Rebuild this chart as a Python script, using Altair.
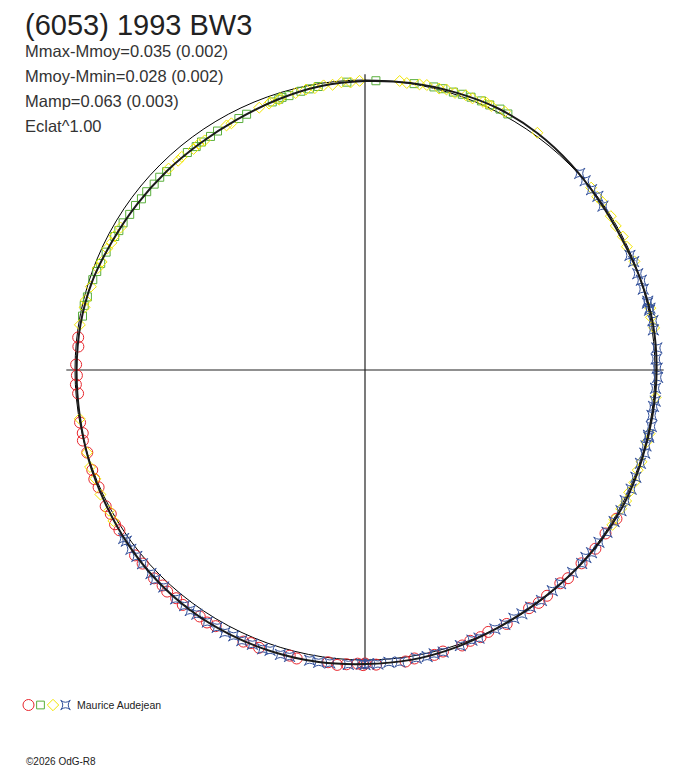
import altair as alt
import numpy as np
import pandas as pd

# ---------------- data (phase 0..1, relative magnitude, + = fainter) ----------------
fit_phase = [0.000, 0.025, 0.050, 0.075, 0.100, 0.125, 0.150, 0.175, 0.200, 0.225,
             0.250, 0.275, 0.300, 0.325, 0.350, 0.375, 0.400, 0.425, 0.450, 0.475,
             0.500, 0.525, 0.550, 0.575, 0.600, 0.625, 0.650, 0.675, 0.700, 0.725,
             0.750, 0.775, 0.800, 0.825, 0.850, 0.875, 0.900, 0.925, 0.950, 0.975]
fit_mag = [0.004, -0.002, -0.007, -0.013, -0.011, -0.004, 0.004, 0.006, 0.000, -0.006,
           -0.006, -0.004, -0.004, -0.006, -0.004, 0.000, 0.002, 0.000, -0.007, -0.013,
           -0.015, -0.021, -0.024, -0.026, -0.026, -0.022, -0.015, -0.007, -0.002, 0.004,
           0.006, 0.007, 0.012, 0.024, 0.031, 0.035, 0.037, 0.033, 0.022, 0.010]

red_phase = [0.335, 0.345, 0.355, 0.366, 0.377, 0.382, 0.392, 0.398, 0.404, 0.419,
             0.430, 0.435, 0.441, 0.446, 0.457, 0.462, 0.473, 0.478, 0.494, 0.500,
             0.501, 0.504, 0.510, 0.515, 0.520, 0.537, 0.541, 0.558, 0.563, 0.567,
             0.584, 0.589, 0.594, 0.605, 0.610, 0.616, 0.620, 0.626, 0.636, 0.642,
             0.658, 0.662, 0.668, 0.673, 0.684, 0.689, 0.694, 0.704, 0.711, 0.715,
             0.721, 0.737, 0.742, 0.747, 0.753, 0.763, 0.768]
red_mag = [-0.008, -0.003, -0.006, -0.001, -0.003, 0.003, 0.000, -0.002, 0.003, -0.003,
           0.002, -0.004, -0.002, -0.008, -0.008, -0.012, -0.010, -0.016, -0.018, -0.013,
           -0.019, -0.014, -0.018, -0.023, -0.017, -0.024, -0.020, -0.027, -0.022, -0.028,
           -0.024, -0.029, -0.025, -0.027, -0.023, -0.026, -0.021, -0.024, -0.018, -0.020,
           -0.012, -0.014, -0.008, -0.011, -0.004, -0.007, -0.002, 0.001, -0.003, 0.003,
           0.001, 0.008, 0.002, 0.007, 0.004, 0.009, 0.005]

green_phase = [0.780, 0.786, 0.791, 0.801, 0.806, 0.811, 0.818, 0.828, 0.832, 0.837,
               0.843, 0.849, 0.854, 0.859, 0.865, 0.870, 0.875, 0.891, 0.897, 0.901,
               0.907, 0.912, 0.926, 0.931, 0.947, 0.951, 0.953, 0.957, 0.964, 0.969,
               0.974, 0.990, 0.006, 0.027, 0.038, 0.043, 0.049, 0.054, 0.059, 0.065,
               0.070, 0.076, 0.081]
green_mag = [0.009, 0.007, 0.011, 0.012, 0.016, 0.019, 0.021, 0.024, 0.027, 0.026,
             0.030, 0.029, 0.032, 0.031, 0.034, 0.032, 0.036, 0.035, 0.038, 0.036,
             0.038, 0.035, 0.033, 0.031, 0.024, 0.022, 0.019, 0.020, 0.015, 0.013,
             0.010, 0.006, 0.002, -0.002, -0.005, -0.007, -0.006, -0.009, -0.010, -0.012,
             -0.011, -0.014, -0.012]

yellow_phase = [0.775, 0.785, 0.789, 0.797, 0.808, 0.812, 0.820, 0.824, 0.828, 0.834,
                0.877, 0.884, 0.887, 0.895, 0.899, 0.903, 0.918, 0.921, 0.939, 0.945,
                0.946, 0.951, 0.952, 0.961, 0.967, 0.972, 0.977, 0.982, 0.987, 0.992,
                0.997, 0.019, 0.023, 0.030, 0.034, 0.041, 0.045, 0.050, 0.056, 0.060,
                0.066, 0.068, 0.071, 0.079, 0.100, 0.142, 0.148, 0.152, 0.161, 0.167,
                0.174, 0.180, 0.189, 0.216, 0.221, 0.227, 0.265, 0.285, 0.290, 0.301,
                0.306, 0.313, 0.319, 0.324, 0.329, 0.336, 0.339, 0.664, 0.670, 0.680,
                0.689, 0.696, 0.704, 0.723]
yellow_mag = [0.005, 0.010, 0.008, 0.013, 0.015, 0.020, 0.019, 0.024, 0.022, 0.027,
              0.033, 0.036, 0.034, 0.039, 0.036, 0.038, 0.034, 0.036, 0.027, 0.026,
              0.022, 0.024, 0.020, 0.017, 0.013, 0.014, 0.009, 0.011, 0.005, 0.008,
              0.003, -0.004, 0.000, -0.003, -0.006, -0.004, -0.008, -0.005, -0.010, -0.008,
              -0.011, -0.013, -0.010, -0.014, -0.012, -0.002, 0.001, -0.003, 0.000, 0.003,
              -0.001, 0.002, -0.002, -0.007, -0.003, -0.008, -0.007, -0.006, -0.002, -0.005,
              -0.002, -0.007, -0.004, -0.008, -0.005, -0.003, -0.007, -0.013, -0.008, -0.009,
              -0.003, -0.006, 0.000, 0.002]

blue_phase = [0.132, 0.137, 0.143, 0.148, 0.154, 0.185, 0.189, 0.196, 0.200, 0.205,
              0.212, 0.213, 0.216, 0.217, 0.223, 0.228, 0.238, 0.244, 0.249, 0.254,
              0.260, 0.267, 0.270, 0.275, 0.281, 0.286, 0.287, 0.292, 0.296, 0.302,
              0.310, 0.317, 0.324, 0.330, 0.337, 0.344, 0.351, 0.358, 0.362, 0.366,
              0.373, 0.382, 0.388, 0.396, 0.403, 0.409, 0.414, 0.420, 0.426, 0.436,
              0.440, 0.447, 0.457, 0.462, 0.466, 0.472, 0.481, 0.487, 0.493, 0.498,
              0.500, 0.502, 0.509, 0.519, 0.525, 0.530, 0.541, 0.546, 0.552, 0.556,
              0.562, 0.568, 0.573, 0.578, 0.583, 0.589, 0.596, 0.600, 0.604, 0.610,
              0.619, 0.625, 0.629, 0.636, 0.641, 0.646, 0.651, 0.653]
blue_mag = [-0.004, -0.001, 0.002, -0.002, 0.004, 0.005, 0.001, 0.003, -0.002, 0.001,
            -0.004, -0.001, -0.006, -0.003, -0.008, -0.004, -0.010, -0.005, -0.008, -0.010,
            -0.004, -0.007, -0.003, -0.002, -0.007, -0.003, -0.006, -0.004, -0.007, -0.003,
            -0.005, -0.006, -0.004, -0.008, -0.006, -0.005, -0.002, -0.004, 0.001, -0.002,
            0.000, 0.001, 0.002, -0.001, 0.003, 0.000, 0.002, -0.001, 0.001, -0.005,
            -0.002, -0.006, -0.010, -0.008, -0.012, -0.010, -0.015, -0.012, -0.016, -0.014,
            -0.017, -0.015, -0.018, -0.019, -0.022, -0.020, -0.023, -0.025, -0.022, -0.026,
            -0.024, -0.027, -0.024, -0.028, -0.025, -0.027, -0.024, -0.027, -0.025, -0.026,
            -0.022, -0.024, -0.020, -0.019, -0.017, -0.018, -0.014, -0.016]

title_text = "(6053) 1993 BW3"
info_lines = ["Mmax-Mmoy=0.035 (0.002)", "Mmoy-Mmin=0.028 (0.002)",
              "Mamp=0.063 (0.003)", "Eclat^1.00"]
observer = "Maurice Audejean"
credit = "\u00a92026 OdG-R8"
ECLAT = 1.00

# ---------------- geometry ----------------
R_PX = 290.0          # pixels per unit radius
W, H = 672, 760       # plot area
CX, CY = 357, 362     # plot-area pixel of the pole
xs = alt.Scale(domain=[-CX / R_PX, (W - CX) / R_PX], nice=False, zero=False)
ys = alt.Scale(domain=[-(H - CY) / R_PX, CY / R_PX], nice=False, zero=False)


def polar_df(phase, mag):
    ph = np.asarray(phase, dtype=float)
    m = np.asarray(mag, dtype=float)
    r = (10 ** (-0.4 * m)) ** ECLAT
    return pd.DataFrame({"phase": ph, "mag": m,
                         "x": r * np.sin(2 * np.pi * ph),
                         "y": r * np.cos(2 * np.pi * ph)})


def XY():
    return dict(x=alt.X("x:Q", scale=xs, axis=None),
                y=alt.Y("y:Q", scale=ys, axis=None))


FONT = "Liberation Sans"
STAR = "M-1,-1Q0,-0.15,1,-1Q0.15,0,1,1Q0,0.15,-1,1Q-0.15,0,-1,-1Z"
RED, GREEN, YELLOW, BLUE = "#E8262D", "#5AAF3C", "#F2E600", "#34529C"

axes_df = pd.DataFrame({"x": [-1.03, 0.0], "x2": [1.03, 0.0],
                        "y": [0.0, -1.015], "y2": [0.0, 1.02]})
axes = alt.Chart(axes_df).mark_rule(color="#222222", strokeWidth=1.2).encode(
    x=alt.X("x:Q", scale=xs, axis=None), x2="x2:Q",
    y=alt.Y("y:Q", scale=ys, axis=None), y2="y2:Q")

# reference circle of unit radius (Vega symbol diameter = sqrt(size))
ring = alt.Chart(pd.DataFrame({"x": [0.0], "y": [0.0]})).mark_point(
    shape="circle", size=float((2 * R_PX) ** 2), filled=False,
    stroke="#000000", strokeWidth=1, opacity=1).encode(**XY())

red = alt.Chart(polar_df(red_phase, red_mag)).mark_point(
    shape="circle", size=121, filled=False, stroke=RED, strokeWidth=1, opacity=1
).encode(**XY())
green = alt.Chart(polar_df(green_phase, green_mag)).mark_point(
    shape="square", size=64, filled=False, stroke=GREEN, strokeWidth=1, opacity=1
).encode(**XY())
yellow = alt.Chart(polar_df(yellow_phase, yellow_mag)).mark_point(
    shape="diamond", size=120, filled=False, stroke=YELLOW, strokeWidth=1, opacity=1
).encode(**XY())
blue = alt.Chart(polar_df(blue_phase, blue_mag)).mark_point(
    shape=STAR, size=110, filled=False, stroke=BLUE, strokeWidth=1, opacity=1
).encode(**XY())

fit = alt.Chart(polar_df(fit_phase, fit_mag)).mark_line(
    interpolate="cardinal-closed", color="#1a1a1a", strokeWidth=2
).encode(order="phase:Q", **XY())

title = alt.Chart(pd.DataFrame({"t": [title_text]})).mark_text(
    align="left", baseline="alphabetic", font=FONT, fontSize=29, color="#222222"
).encode(text="t:N", x=alt.value(17), y=alt.value(27))

info = []
for i, line in enumerate(info_lines):
    info.append(alt.Chart(pd.DataFrame({"t": [line]})).mark_text(
        align="left", baseline="alphabetic", font=FONT, fontSize=16.5, color="#333333"
    ).encode(text="t:N", x=alt.value(17), y=alt.value(49 + 25 * i)))

leg_y = 697
leg = [
    alt.Chart(pd.DataFrame({"k": [0]})).mark_point(
        shape="circle", size=121, filled=False, stroke=RED, strokeWidth=1, opacity=1
    ).encode(x=alt.value(20.5), y=alt.value(leg_y)),
    alt.Chart(pd.DataFrame({"k": [0]})).mark_point(
        shape="square", size=60, filled=False, stroke=GREEN, strokeWidth=1, opacity=1
    ).encode(x=alt.value(32.5), y=alt.value(leg_y)),
    alt.Chart(pd.DataFrame({"k": [0]})).mark_point(
        shape="diamond", size=130, filled=False, stroke=YELLOW, strokeWidth=1, opacity=1
    ).encode(x=alt.value(45), y=alt.value(leg_y)),
    alt.Chart(pd.DataFrame({"k": [0]})).mark_point(
        shape=STAR, size=90, filled=False, stroke=BLUE, strokeWidth=1, opacity=1
    ).encode(x=alt.value(57.5), y=alt.value(leg_y)),
]
obs = alt.Chart(pd.DataFrame({"t": [observer]})).mark_text(
    align="left", baseline="alphabetic", font=FONT, fontSize=10.5, color="#222222"
).encode(text="t:N", x=alt.value(69), y=alt.value(701))
cred = alt.Chart(pd.DataFrame({"t": [credit]})).mark_text(
    align="left", baseline="alphabetic", font=FONT, fontSize=10, color="#222222"
).encode(text="t:N", x=alt.value(18), y=alt.value(757))

chart = alt.layer(axes, ring, red, green, yellow, blue, fit, title, *info,
                  *leg, obs, cred).properties(
    width=W, height=H, padding=0, background="white"
).configure_view(stroke=None)

chart.save("out.html", embed_options={"renderer": "svg", "actions": False})
